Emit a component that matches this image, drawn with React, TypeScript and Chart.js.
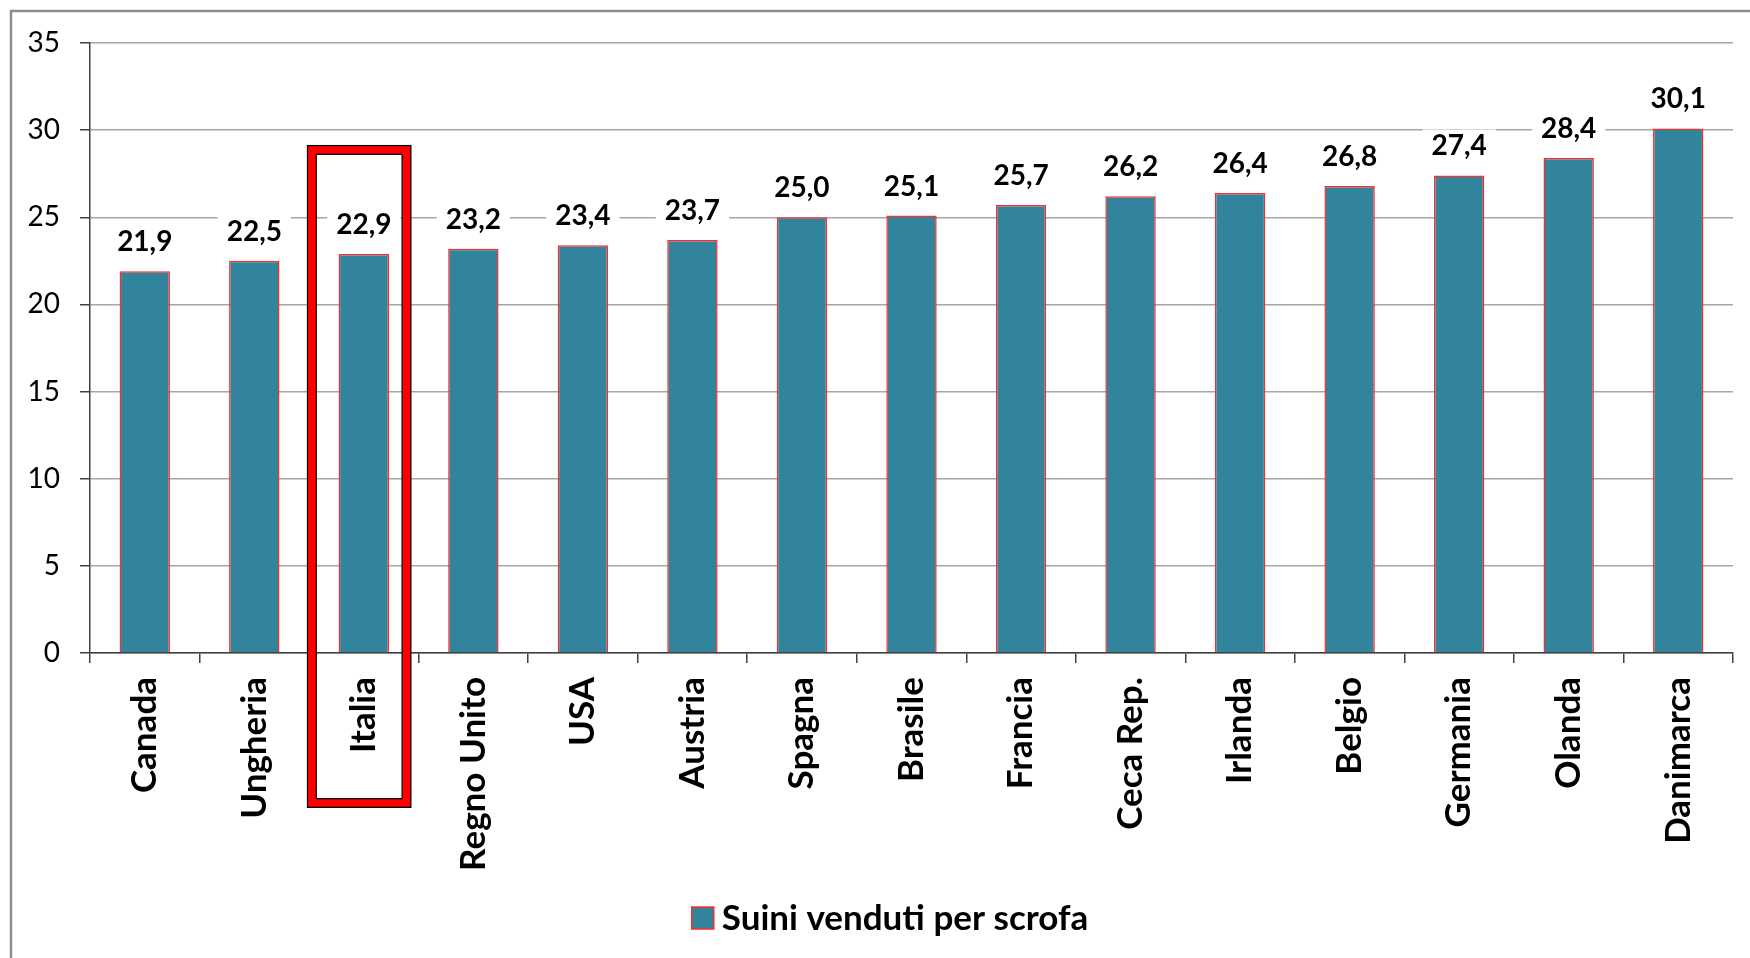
import React, { useEffect, useRef } from "react";
import { Chart, registerables } from "chart.js";

Chart.register(...registerables);

const categories = [
  "Canada", "Ungheria", "Italia", "Regno Unito", "USA", "Austria", "Spagna",
  "Brasile", "Francia", "Ceca Rep.", "Irlanda", "Belgio", "Germania", "Olanda", "Danimarca",
];
const values = [21.9, 22.5, 22.9, 23.2, 23.4, 23.7, 25.0, 25.1, 25.7, 26.2, 26.4, 26.8, 27.4, 28.4, 30.1];
const seriesLabel = "Suini venduti per scrofa";
const highlighted = "Italia";
const yMin = 0;
const yMax = 35;
const yStep = 5;

const FONT = "Lato, 'Open Sans', sans-serif";
const BAR_COLOR = "#31849B";
const BAR_BORDER = "#FF2A2A";

const fmt = (v: number) => v.toFixed(1).replace(".", ",");

const framePlugin = {
  id: "frame",
  beforeDraw(chart: any) {
    const ctx = chart.ctx;
    ctx.save();
    ctx.strokeStyle = "#8C8C8C";
    ctx.lineWidth = 2.5;
    ctx.beginPath();
    ctx.moveTo(11, chart.height + 5);
    ctx.lineTo(11, 11);
    ctx.lineTo(chart.width + 5, 11);
    ctx.stroke();
    ctx.restore();
  },
};

const valueLabelPlugin = {
  id: "valueLabels",
  afterDatasetsDraw(chart: any) {
    const ctx = chart.ctx;
    const meta = chart.getDatasetMeta(0);
    ctx.save();
    ctx.font = `bold 28px ${FONT}`;
    ctx.textAlign = "center";
    ctx.textBaseline = "alphabetic";
    meta.data.forEach((bar: any, i: number) => {
      const text = fmt(values[i]);
      const w = ctx.measureText(text).width;
      const baseY = bar.y - 20;
      ctx.fillStyle = "#FFFFFF";
      ctx.fillRect(bar.x - w / 2 - 9, baseY - 26, w + 18, 34);
      ctx.fillStyle = "#000000";
      ctx.fillText(text, bar.x, baseY);
    });
    ctx.restore();
  },
};

const legendPlugin = {
  id: "customLegend",
  afterDraw(chart: any) {
    const ctx = chart.ctx;
    const ds = chart.data.datasets[0];
    ctx.save();
    ctx.font = `bold 35px ${FONT}`;
    const tw = ctx.measureText(ds.label).width;
    const box = 22;
    const gap = 8;
    const total = box + gap + tw;
    const cx = chart.width / 2 + 15;
    const cy = chart.chartArea.bottom + 265;
    const x0 = cx - total / 2;
    ctx.fillStyle = ds.backgroundColor;
    ctx.fillRect(x0, cy - box / 2, box, box);
    ctx.strokeStyle = ds.borderColor;
    ctx.lineWidth = 1.5;
    ctx.strokeRect(x0, cy - box / 2, box, box);
    ctx.fillStyle = "#000000";
    ctx.textAlign = "left";
    ctx.textBaseline = "middle";
    ctx.fillText(ds.label, x0 + box + gap, cy + 1);
    ctx.restore();
  },
};

const highlightPlugin = {
  id: "highlight",
  afterDraw(chart: any) {
    const idx = categories.indexOf(highlighted);
    if (idx < 0) return;
    const xs = chart.scales.x;
    const ys = chart.scales.y;
    const catW = xs.width / categories.length;
    const cx = xs.getPixelForValue(idx);
    const left = cx - 0.52 * catW + 5;
    const right = cx + 0.435 * catW - 5;
    const top = ys.getPixelForValue(29.15) + 5;
    const bottom = chart.chartArea.bottom + 155 - 5;
    const ctx = chart.ctx;
    ctx.save();
    ctx.strokeStyle = "#000000";
    ctx.lineWidth = 10;
    ctx.strokeRect(left, top, right - left, bottom - top);
    ctx.strokeStyle = "#FF0000";
    ctx.lineWidth = 7.5;
    ctx.strokeRect(left, top, right - left, bottom - top);
    ctx.restore();
  },
};

export default function App() {
  const ref = useRef<HTMLCanvasElement | null>(null);

  useEffect(() => {
    document.body.style.margin = "0";
    const canvas = ref.current;
    if (!canvas) return;
    const chart = new Chart(canvas, {
      type: "bar",
      data: {
        labels: categories,
        datasets: [
          {
            label: seriesLabel,
            data: values,
            backgroundColor: BAR_COLOR,
            borderColor: BAR_BORDER,
            borderWidth: 1.5,
            categoryPercentage: 1,
            barPercentage: 0.46,
          },
        ],
      },
      options: {
        animation: false,
        responsive: false,
        maintainAspectRatio: false,
        layout: { padding: { left: 0, right: 17, top: 43, bottom: 65 } },
        plugins: {
          tooltip: { enabled: false },
          legend: { display: false },
        },
        scales: {
          x: {
            afterFit: (s: any) => {
              s.height = 240;
            },
            grid: {
              display: true,
              offset: true,
              drawOnChartArea: false,
              drawTicks: true,
              tickLength: 10,
              color: "#404040",
              lineWidth: 1.5,
            },
            border: { display: true, color: "#404040", width: 1.5 },
            ticks: {
              autoSkip: false,
              minRotation: 90,
              maxRotation: 90,
              padding: 14,
              color: "#000000",
              font: { family: FONT, size: 35, weight: "bold" },
            },
          },
          y: {
            min: yMin,
            max: yMax,
            afterFit: (s: any) => {
              s.width = 90;
            },
            grid: {
              display: true,
              drawTicks: true,
              tickLength: 10,
              color: "#A6A6A6",
              tickColor: "#404040",
              lineWidth: 1.5,
            },
            border: { display: true, color: "#404040", width: 1.5 },
            ticks: {
              stepSize: yStep,
              padding: 20,
              color: "#000000",
              font: { family: FONT, size: 28 },
            },
          },
        },
      },
      plugins: [framePlugin, valueLabelPlugin, highlightPlugin, legendPlugin],
    });
    return () => chart.destroy();
  }, []);

  return (
    <div style={{ position: "absolute", left: 0, top: 0, width: 1750, height: 958, background: "#fff" }}>
      <canvas ref={ref} width={1750} height={958} style={{ width: 1750, height: 958 }} />
    </div>
  );
}
